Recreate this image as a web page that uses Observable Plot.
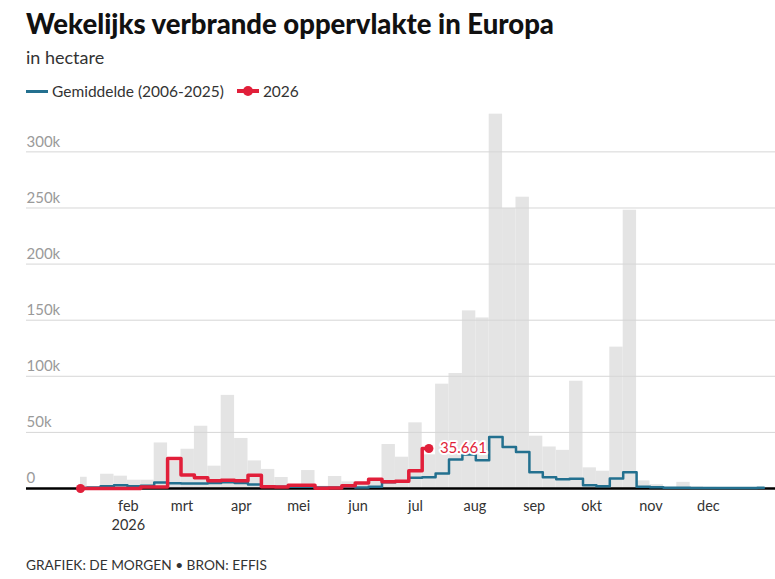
<!DOCTYPE html>
<html>
<head>
<meta charset="utf-8">
<script src="https://cdn.jsdelivr.net/npm/d3@7"></script>
<script src="https://cdn.jsdelivr.net/npm/@observablehq/plot@0.6"></script>
<style>
  body { margin: 0; background: #fff; font-family: Lato, "Noto Sans", sans-serif; }
  #wrap { position: relative; width: 775px; height: 579px; overflow: hidden; }
  #title { position: absolute; left: 26px; top: 8px; font-size: 27.5px; line-height: 32px; font-weight: 900; color: #111; white-space: nowrap; }
  #subtitle { position: absolute; left: 26px; top: 47px; font-size: 18px; line-height: 20px; color: #333; }
  #legend { position: absolute; left: 26px; top: 82px; font-size: 15.5px; line-height: 18px; color: #333; display: flex; align-items: center; white-space: nowrap; }
  .sw { display: inline-block; position: relative; width: 22px; height: 3px; margin-right: 4px; }
  .sw.blue { background: #23708f; }
  .sw.red { background: #e11f3a; height: 3.5px; margin-left: 13px; }
  .sw.red::after { content: ""; position: absolute; left: 6px; top: -3.25px; width: 10px; height: 10px; border-radius: 50%; background: #e11f3a; }
  #chart { position: absolute; left: 0; top: 100px; }
  #caption { position: absolute; left: 26px; top: 557px; font-size: 13.7px; line-height: 16px; color: #333; white-space: nowrap; }
</style>
</head>
<body>
<div id="wrap">
  <div id="title">Wekelijks verbrande oppervlakte in Europa</div>
  <div id="subtitle">in hectare</div>
  <div id="legend"><span class="sw blue"></span><span>Gemiddelde (2006-2025)</span><span class="sw red"></span><span>2026</span></div>
  <div id="chart"></div>
  <div id="caption">GRAFIEK: DE MORGEN • BRON: EFFIS</div>
</div>
<script>
// weeks (2026)
const weeks = [
  "2026-01-07","2026-01-14","2026-01-21","2026-01-28",
  "2026-02-04","2026-02-11","2026-02-18","2026-02-25",
  "2026-03-04","2026-03-11","2026-03-18","2026-03-25",
  "2026-04-01","2026-04-08","2026-04-15","2026-04-22","2026-04-29",
  "2026-05-06","2026-05-13","2026-05-20","2026-05-27",
  "2026-06-03","2026-06-10","2026-06-17","2026-06-24",
  "2026-07-01","2026-07-08","2026-07-15","2026-07-22","2026-07-29",
  "2026-08-05","2026-08-12","2026-08-19","2026-08-26",
  "2026-09-02","2026-09-09","2026-09-16","2026-09-23","2026-09-30",
  "2026-10-07","2026-10-14","2026-10-21","2026-10-28",
  "2026-11-04","2026-11-11","2026-11-18","2026-11-25",
  "2026-12-02","2026-12-09","2026-12-16","2026-12-23","2026-12-30"
];
// highest weekly value 2006-2025 (grey bars)
const maxValues = [
  10000, 800, 12700, 11000, 7400, 7400, 40600, 24000, 35000, 55500,
  19900, 83000, 44600, 24600, 17000, 9800, 3500, 16000, 2000, 10700,
  5900, 4000, 7000, 39200, 27900, 58500, 30000, 93000, 102500, 158300,
  152000, 333600, 249600, 259600, 46600, 37000, 34000, 95600, 18400, 15400,
  126000, 248000, 6800, 3400, 1000, 5500, 1500, 1000, 800, 800,
  800, 800
];
// average 2006-2025
const avgValues = [
  500, 1000, 2000, 3000, 2000, 2500, 5300, 4700, 4500, 4500,
  5000, 5500, 5000, 3500, 2000, 1500, 1500, 1500, 1000, 1000,
  1500, 1000, 1500, 5500, 6500, 9500, 10000, 13400, 25800, 30300,
  25200, 46000, 37000, 32600, 14500, 10000, 8200, 8700, 2900, 2000,
  9000, 14500, 1600, 1100, 700, 600, 500, 500, 400, 400,
  500, 600
];
// 2026
const values2026 = [
  0, 0, 0, 0, 0, 1400, 1400, 26700, 12000, 9500,
  6800, 7400, 6800, 11800, 1600, 1400, 2900, 2900, 300, 500,
  2500, 5000, 8200, 6000, 6500, 15800, 35661
];
const yTicks = [0, 50000, 100000, 150000, 200000, 250000, 300000];
const monthTicks = ["2026-02-01","2026-03-01","2026-04-01","2026-05-01","2026-06-01","2026-07-01","2026-08-01","2026-09-01","2026-10-01","2026-11-01","2026-12-01"];
const monthNames = ["jan","feb","mrt","apr","mei","jun","jul","aug","sep","okt","nov","dec"];
const yearLabel = "2026";

const parse = d3.utcParse("%Y-%m-%d");
const halfWeek = 3.5 * 24 * 3600 * 1000;
const bars = weeks.map((w, i) => {
  const d = parse(w);
  return { date: d, x1: new Date(+d - halfWeek), x2: new Date(+d + halfWeek), value: maxValues[i] };
});
const avg = weeks.map((w, i) => ({ date: parse(w), value: avgValues[i] }));
const cur = values2026.map((v, i) => ({ date: parse(weeks[i]), value: v }));
const last = cur[cur.length - 1];
const nl = d3.formatLocale({ decimal: ",", thousands: ".", grouping: [3], currency: ["€", ""] });
const fmt = nl.format(",");

const RED = "#e11f3a", BLUE = "#23708f";

const chart = Plot.plot({
  width: 775,
  height: 440,
  marginLeft: 80,
  marginRight: 11.6,
  marginTop: 6.5,
  marginBottom: 52,
  style: { fontFamily: "Lato, 'Noto Sans', sans-serif", fontSize: "14.5px", background: "transparent", overflow: "visible" },
  x: { type: "utc", domain: [parse(weeks[0]), parse(weeks[weeks.length - 1])] },
  y: { domain: [0, 340000] },
  marks: [
    Plot.rectY(bars, { x1: "x1", x2: "x2", y: "value", fill: "#e4e4e4", clip: true }),
    Plot.ruleY(yTicks.filter(d => d > 0), { stroke: "#d6d6d6", strokeWidth: 1, insetLeft: -54, insetRight: -11.6 }),
    Plot.axisY({ ticks: yTicks, tickSize: 0, tickPadding: 0, textAnchor: "start", dx: -54, dy: -10, fill: "#9a9a9a", fontSize: 15, tickFormat: d => d === 0 ? "0" : (d / 1000) + "k", label: null }),
    Plot.axisX({ ticks: monthTicks.map(parse), tickSize: 0, tickPadding: 9, lineHeight: 1.3, fill: "#333", fontSize: 14.5, label: null,
      tickFormat: (d, i) => monthNames[d.getUTCMonth()] + (i === 0 ? "\n" + yearLabel : "") }),
    Plot.ruleY([0], { stroke: "#000", strokeWidth: 2.5, insetLeft: -54, insetRight: -11.6 }),
    Plot.line(avg, { x: "date", y: "value", curve: "step", stroke: BLUE, strokeWidth: 2.5 }),
    Plot.line(cur, { x: "date", y: "value", curve: "step", stroke: RED, strokeWidth: 3.5 }),
    Plot.dot([cur[0], last], { x: "date", y: "value", r: 4.5, fill: RED }),
    Plot.text([last], { x: "date", y: "value", text: d => fmt(d.value), dx: 11, textAnchor: "start", fill: RED, stroke: "white", strokeWidth: 4, fontSize: 15 })
  ]
});
document.getElementById("chart").appendChild(chart);
</script>
</body>
</html>
